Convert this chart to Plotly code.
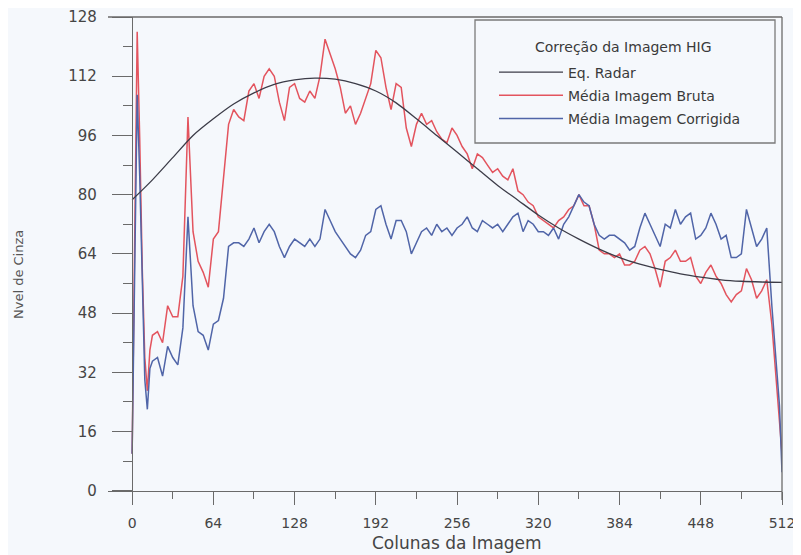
import plotly.graph_objects as go

# Column positions (image columns) where the profiles were read
cols = [0, 2, 4, 6, 8, 10, 12, 14] + list(range(16, 509, 4)) + [510, 512]

media_bruta = [
    10, 60, 124, 95, 60, 36, 27, 38,
    42, 43, 40, 50, 47, 47, 58, 101, 70, 62,
    59, 55, 68, 70, 84, 99, 103, 101, 100, 108,
    110, 106, 112, 114, 112, 105, 100, 109, 110, 106,
    105, 108, 106, 112, 122, 118, 114, 109, 102, 104,
    99, 102, 106, 110, 119, 117, 109, 103, 110, 109,
    98, 93, 99, 102, 99, 100, 97, 95, 94, 98,
    96, 93, 91, 87, 91, 90, 88, 86, 87, 85,
    84, 87, 81, 80, 78, 77, 74, 73, 72, 71,
    73, 74, 76, 77, 80, 77, 77, 72, 65, 64,
    64, 63, 64, 61, 61, 62, 65, 66, 64, 60,
    55, 62, 63, 65, 62, 62, 63, 58, 56, 59,
    61, 58, 56, 53, 51, 53, 54, 60, 57, 52,
    54, 57, 45, 28,
    19, 10,
]

media_corrigida = [
    10, 55, 107, 85, 55, 30, 22, 33,
    35, 36, 31, 39, 36, 34, 44, 74, 50, 43,
    42, 38, 45, 46, 52, 66, 67, 67, 66, 68,
    71, 67, 70, 72, 70, 66, 63, 66, 68, 67,
    66, 68, 66, 68, 76, 73, 70, 68, 66, 64,
    63, 65, 69, 70, 76, 77, 72, 68, 73, 73,
    70, 64, 67, 70, 71, 69, 72, 70, 71, 69,
    71, 72, 74, 71, 70, 73, 72, 71, 72, 70,
    72, 74, 75, 70, 73, 72, 70, 70, 69, 71,
    68, 72, 74, 77, 80, 78, 77, 72, 69, 68,
    69, 69, 68, 67, 65, 66, 71, 75, 72, 69,
    66, 72, 71, 76, 72, 74, 75, 68, 69, 71,
    75, 72, 68, 69, 63, 63, 64, 76, 71, 66,
    68, 71, 50, 32,
    23, 5,
]

radar_cols = [0, 16, 32, 48, 64, 80, 96, 112, 128, 144, 160, 176, 192, 208, 224, 240,
              256, 272, 288, 304, 320, 336, 352, 368, 384, 400, 416, 432, 448, 464, 480, 496, 512]
eq_radar = [78.6, 84, 90, 96, 100.5, 104.5, 107.5, 109.8, 111, 111.5, 111.2, 110, 108, 104.8,
            100.5, 96, 91.5, 87, 82.5, 78.5, 74.5, 71, 68, 65.3, 63, 61.2, 59.8, 58.6, 57.7,
            57, 56.6, 56.4, 56.3]

x_ticks = [0, 64, 128, 192, 256, 320, 384, 448, 512]
y_ticks = [0, 16, 32, 48, 64, 80, 96, 112, 128]

FONT = "DejaVu Sans"
AX = "#6a6a6a"
TXT = "#454545"

fig = go.Figure()
fig.add_trace(go.Scatter(x=cols, y=media_bruta, mode="lines", name="Média Imagem Bruta",
                         legendrank=2, legendgroup="b", line=dict(color="#e3545e", width=1.5)))
fig.add_trace(go.Scatter(x=cols, y=media_corrigida, mode="lines", name="Média Imagem Corrigida",
                         legendrank=3, legendgroup="c", line=dict(color="#5065a8", width=1.5)))
fig.add_trace(go.Scatter(x=radar_cols, y=eq_radar, mode="lines", name="Eq. Radar",
                         legendrank=1, legendgroup="a",
                         line=dict(color="#3c3c48", width=1.3, shape="spline", smoothing=0.8)))

# the page has an 8px body margin: the figure is placed at (8, 8)
OFF = 8
W, H = 801, 555
PL, PR, PT, PB = 108, 782, 17, 500          # plot area in page pixels
L, R, T, B = PL - OFF, W - (PR - OFF), PT - OFF, H - (PB - OFF)

def px(xp):
    return (xp - PL) / (PR - PL)

def py(yp):
    return (PB - yp) / (PB - PT)

fig.update_layout(
    width=W, height=H,
    margin=dict(l=L, r=R, t=T, b=B, autoexpand=False),
    paper_bgcolor="#f5f8fc", plot_bgcolor="#f5f8fc",
    showlegend=True,
    legend=dict(x=px(494), y=py(56.5), xanchor="left", yanchor="top",
                bgcolor="rgba(0,0,0,0)", borderwidth=0, itemwidth=64,
                font=dict(family=FONT, size=14, color="#3a3a3a"),
                tracegroupgap=2),
    xaxis=dict(range=[-19, 512], anchor="free", position=py(491),
               tickmode="array", tickvals=x_ticks, ticktext=[str(v) for v in x_ticks],
               ticks="outside", ticklen=13, tickwidth=1.3, tickcolor=AX,
               minor=dict(dtick=32, tick0=0, ticks="outside", ticklen=7, tickwidth=1.3, tickcolor=AX),
               showline=True, linecolor=AX, linewidth=1.3,
               showgrid=False, zeroline=False, automargin=False, ticklabeloverflow="allow",
               tickfont=dict(family=FONT, size=14, color=TXT), ticklabelstandoff=6),
    yaxis=dict(range=[-2.5, 128], anchor="free", position=px(132),
               tickmode="array", tickvals=y_ticks, ticktext=[str(v) for v in y_ticks],
               ticks="outside", ticklen=20, tickwidth=1.3, tickcolor=AX,
               minor=dict(dtick=8, tick0=0, ticks="outside", ticklen=9, tickwidth=1.3, tickcolor=AX),
               showline=True, linecolor=AX, linewidth=1.3,
               showgrid=False, zeroline=False, automargin=False,
               tickfont=dict(family=FONT, size=15, color=TXT), ticklabelstandoff=12),
    shapes=[
        dict(type="line", xref="paper", yref="paper", x0=0, x1=1, y0=1, y1=1,
             line=dict(color=AX, width=1.3)),
        dict(type="line", xref="paper", yref="paper", x0=1, x1=1, y0=0, y1=1,
             line=dict(color=AX, width=1.3)),
        dict(type="rect", xref="paper", yref="paper", x0=px(475), x1=px(775), y0=py(143), y1=py(20),
             line=dict(color="#7a7a7a", width=1.3), fillcolor="rgba(0,0,0,0)"),
    ],
    annotations=[
        dict(text="Correção da Imagem HIG", xref="paper", yref="paper", x=px(623), y=py(47),
             showarrow=False, xanchor="center", yanchor="middle",
             font=dict(family=FONT, size=14, color="#3a3a3a")),
        dict(text="Colunas da Imagem", xref="paper", yref="paper", x=px(457), y=py(543),
             showarrow=False, xanchor="center", yanchor="middle",
             font=dict(family=FONT, size=17, color=TXT)),
        dict(text="Nvel de Cinza", xref="paper", yref="paper", x=px(18), y=py(275),
             showarrow=False, xanchor="center", yanchor="middle", textangle=-90,
             font=dict(family=FONT, size=13, color="#555555")),
    ],
)

fig.write_html("out.html")
